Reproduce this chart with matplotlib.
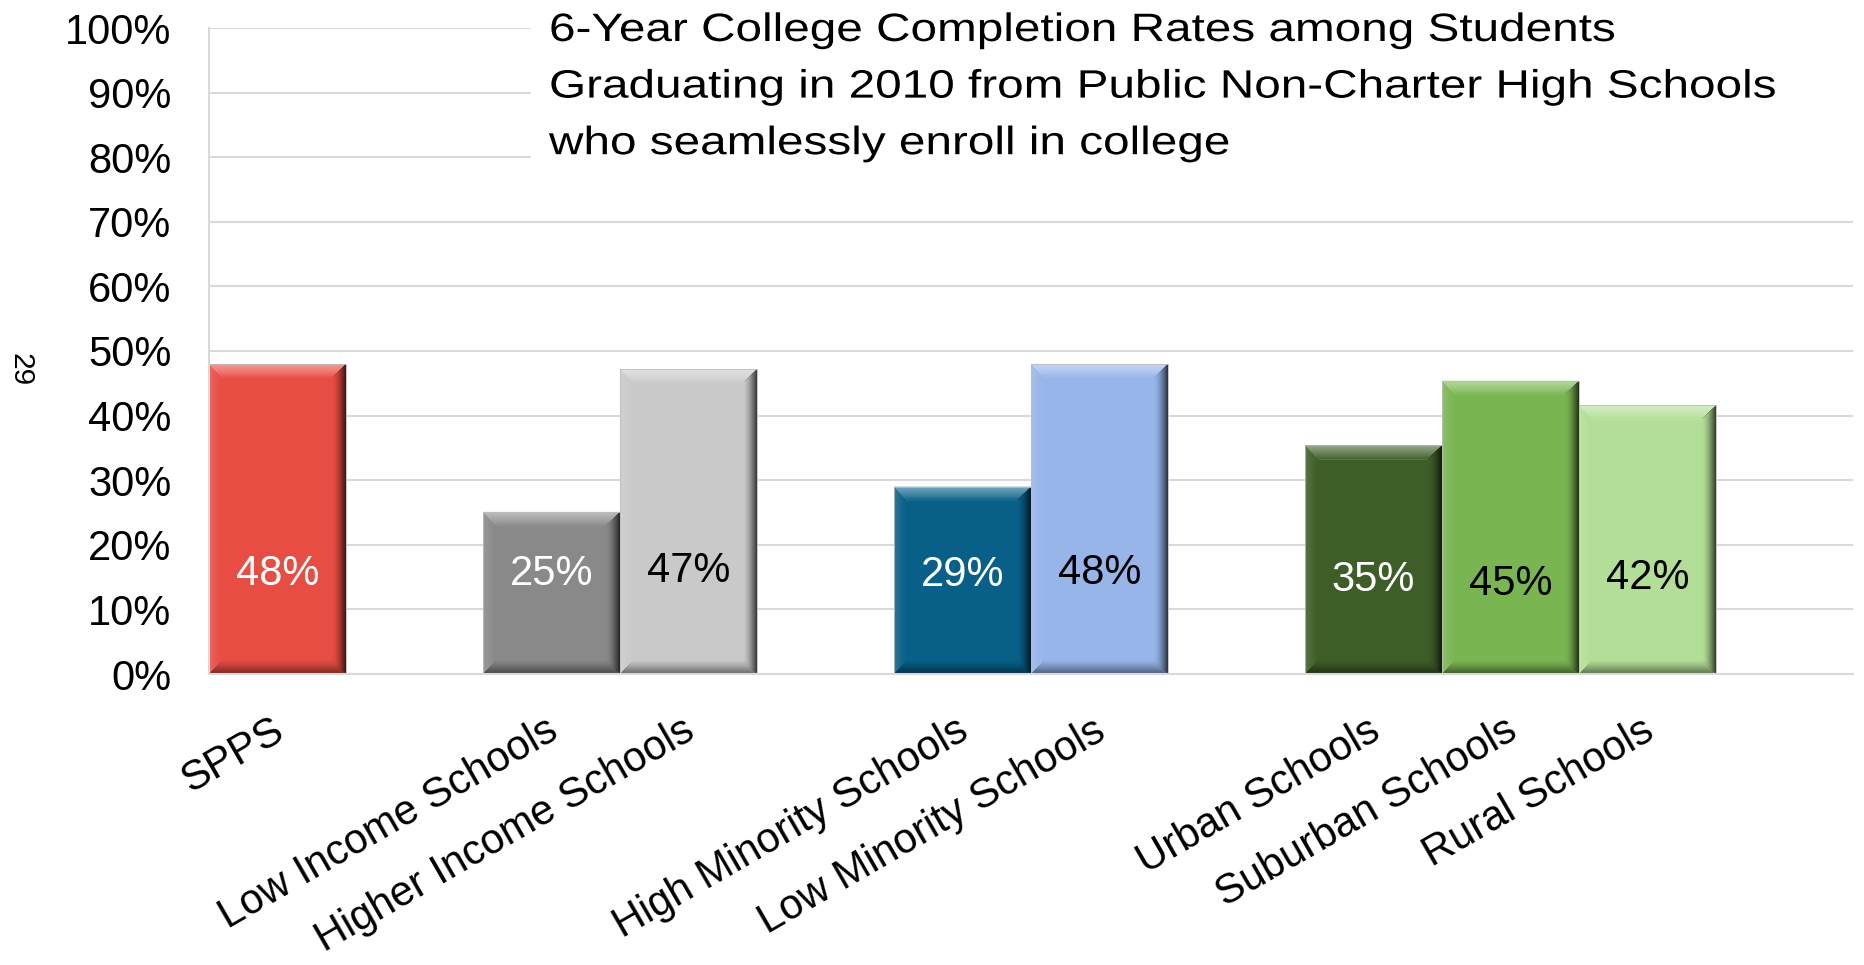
import numpy as np
import matplotlib
matplotlib.use("Agg")
import matplotlib.pyplot as plt
from matplotlib.patheffects import AbstractPathEffect
from matplotlib.path import Path
from matplotlib.transforms import IdentityTransform, Affine2D, ScaledTranslation
from matplotlib.patches import Rectangle
from matplotlib.colors import to_rgba
from matplotlib.ticker import PercentFormatter

plt.rcParams['font.family'] = ['Liberation Sans', 'DejaVu Sans']

# ---- data -------------------------------------------------------------
group_sizes = [1, 2, 2, 3]
categories = ["SPPS",
              "Low Income Schools", "Higher Income Schools",
              "High Minority Schools", "Low Minority Schools",
              "Urban Schools", "Suburban Schools", "Rural Schools"]
rates = [0.48, 0.251, 0.472, 0.29, 0.48, 0.354, 0.454, 0.416]
y_ticks = [0.0, 0.1, 0.2, 0.3, 0.4, 0.5, 0.6, 0.7, 0.8, 0.9, 1.0]

# ---- styling ----------------------------------------------------------
bar_colors = ["#E84D43",
              "#898989", "#C9C9C9",
              "#086088", "#97B5E9",
              "#3E5E28", "#79B651", "#B3DE97"]
label_colors = ["white", "white", "black", "white", "black",
                "white", "black", "black"]
label_y = [0.155, 0.155, 0.159, 0.154, 0.157, 0.145, 0.139, 0.148]
grid_color = "#D9D9D9"

title = ("6-Year College Completion Rates among Students\n"
         "Graduating in 2010 from Public Non-Charter High Schools\n"
         "who seamlessly enroll in college")


def _mix(a, b, t):
    return tuple(np.asarray(a[:3]) * (1 - t) + np.asarray(b[:3]) * t)


class Bevel(AbstractPathEffect):
    """Soft bevelled edges drawn around a rectangular patch."""

    def __init__(self, size=10.0, steps=12):
        super().__init__()
        self.size = size
        self.steps = steps

    def draw_path(self, renderer, gc, tpath, affine, rgbFace=None):
        pts = affine.transform(tpath.vertices)
        x0, y0 = pts.min(axis=0)
        x1, y1 = pts.max(axis=0)
        face = to_rgba(rgbFace)

        gc_fill = renderer.new_gc()
        gc_fill.copy_properties(gc)
        gc_fill.set_linewidth(0)
        renderer.draw_path(gc_fill, tpath, affine, face)

        b = min(renderer.points_to_pixels(self.size), (x1 - x0) / 2, (y1 - y0) / 2)
        white, black = (1, 1, 1), (0, 0, 0)
        sides = [
            # left
            (lambda d: [(x0 + d, y0 + d), (x0 + d, y1 - d), (x0 + b, y1 - b), (x0 + b, y0 + b)],
             _mix(face, white, 0.15), 1.5),
            # bottom
            (lambda d: [(x1 - d, y0 + d), (x0 + d, y0 + d), (x0 + b, y0 + b), (x1 - b, y0 + b)],
             _mix(face, black, 0.5), 1.2),
            # top
            (lambda d: [(x0 + d, y1 - d), (x1 - d, y1 - d), (x1 - b, y1 - b), (x0 + b, y1 - b)],
             _mix(face, white, 0.45), 0.8),
            # right
            (lambda d: [(x1 - d, y1 - d), (x1 - d, y0 + d), (x1 - b, y0 + b), (x1 - b, y1 - b)],
             _mix(face, black, 0.75), 1.6),
        ]
        ident = IdentityTransform()
        for poly, edge, gamma in sides:
            for i in range(self.steps):
                d = b * i / self.steps
                t = (1 - (i + 0.5) / self.steps) ** gamma
                col = _mix(face, edge, t) + (face[3],)
                v = np.array(poly(d) + [poly(d)[0]])
                renderer.draw_path(gc_fill, Path(v, closed=True), ident, col)
        gc_fill.restore()

        renderer.draw_path(gc, tpath, affine, None)


class WideText(AbstractPathEffect):
    """Draws a text's glyphs widened horizontally about its anchor."""

    def __init__(self, text, factor):
        super().__init__()
        self.text = text
        self.factor = factor

    def draw_path(self, renderer, gc, tpath, affine, rgbFace=None):
        x0 = self.text.get_transform().transform(self.text.get_position())[0]
        widen = Affine2D().translate(-x0, 0).scale(self.factor, 1).translate(x0, 0)
        renderer.draw_path(gc, tpath, affine + widen, rgbFace)


# ---- figure -----------------------------------------------------------
fig = plt.figure(figsize=(18.65, 9.65), dpi=100)
ax = fig.add_axes([209 / 1865, (965 - 674) / 965, 1644 / 1865, 646 / 965])

positions = []
slot = 0
for n in group_sizes:
    positions.extend(range(slot, slot + n))
    slot += n + 1

bars = ax.bar(positions, rates, width=1.0, color=bar_colors,
              edgecolor="#BDBDBD", linewidth=0.6, zorder=2)
for bar in bars:
    bar.set_path_effects([Bevel()])

for x, v, c, ly in zip(positions, rates, label_colors, label_y):
    ax.text(x, ly, f"{v:.0%}", ha="center", va="center", color=c,
            fontsize=30, zorder=4)

ax.set_xlim(-0.5, slot - 0.5)
ax.set_ylim(0, 1)
ax.set_yticks(y_ticks)
ax.yaxis.set_major_formatter(PercentFormatter(1.0, decimals=0))
ax.set_xticks(positions)
ax.set_xticklabels(categories, rotation=30, ha="right", va="top",
                   rotation_mode="anchor")
ax.tick_params(axis="both", length=0, labelsize=30)
ax.tick_params(axis="y", pad=27)
ax.tick_params(axis="x", pad=22)
nudge = ScaledTranslation(-7 / 100, -6 / 100, fig.dpi_scale_trans)
for lbl in ax.get_xticklabels():
    lbl.set_transform(lbl.get_transform() + nudge)

ax.set_axisbelow(True)
ax.yaxis.grid(True, color=grid_color, linewidth=1.5)
for side in ("top", "right"):
    ax.spines[side].set_visible(False)
for side in ("left", "bottom"):
    ax.spines[side].set_color(grid_color)
    ax.spines[side].set_linewidth(1.5)

# white panel behind the heading
ax.add_patch(Rectangle((0.196, 0.745), 0.81, 0.28, transform=ax.transAxes,
                       facecolor="white", edgecolor="none", zorder=1,
                       clip_on=False))
heading = fig.text(549 / 1865, 1 - 11 / 965, title, ha="left", va="top",
                   fontsize=28.5, linespacing=1.62, zorder=5)
heading.set_path_effects([WideText(heading, 1.205)])

fig.text(21 / 1865, 1 - 370 / 965, "29", rotation=-90, ha="center",
         va="center", fontsize=21.5)

fig.savefig("out.png", dpi=100, facecolor="white")
